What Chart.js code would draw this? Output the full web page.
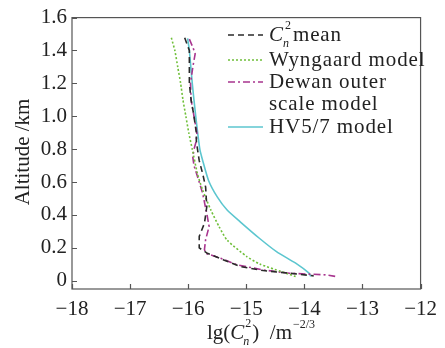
<!DOCTYPE html>
<html><head><meta charset="utf-8">
<script src="https://cdn.jsdelivr.net/npm/chart.js@4/dist/chart.umd.min.js"></script>
<style>html,body{margin:0;padding:0;background:#fff}#w{width:445px;height:348px;position:relative}</style>
</head><body><div id="w"><canvas id="c" width="445" height="348"></canvas></div>
<script>
const xTicks = [-18,-17,-16,-15,-14,-13,-12];
const yTicks = [0,0.2,0.4,0.6,0.8,1.0,1.2,1.4,1.6];
const seriesNames = ["mean","Wyngaard model","Dewan outer","HV5/7 model"];

const meanY = [1.477,1.4,1.3,1.2,1.1,1.0,0.9,0.85,0.8,0.73,0.65,0.57,0.45,0.35,0.27,0.2,0.167,0.127,0.086,0.062,0.046,0.03];
const meanX = [-16.06,-15.98,-15.98,-15.98,-15.95,-15.90,-15.86,-15.86,-15.84,-15.81,-15.75,-15.70,-15.68,-15.72,-15.81,-15.81,-15.67,-15.39,-15.10,-14.71,-14.26,-13.84];

const wynY = [1.477,1.4,1.3,1.2,1.1,1.0,0.9,0.8,0.65,0.55,0.43,0.33,0.247,0.147,0.102,0.056,0.026];
const wynX = [-16.29,-16.23,-16.18,-16.13,-16.09,-16.04,-15.99,-15.93,-15.84,-15.75,-15.61,-15.47,-15.33,-14.99,-14.77,-14.40,-14.15];

const dewY = [1.469,1.42,1.38,1.3,1.2,1.1,1.0,0.9,0.85,0.8,0.75,0.7,0.6,0.53,0.39,0.33,0.25,0.19,0.167,0.137,0.097,0.066,0.046,0.036,0.027];
const dewX = [-15.98,-15.92,-15.88,-15.92,-15.96,-15.95,-15.90,-15.85,-15.86,-15.90,-15.92,-15.90,-15.81,-15.75,-15.67,-15.64,-15.70,-15.72,-15.70,-15.44,-15.16,-14.71,-14.26,-13.64,-13.47];

const hvY = [1.473,1.4,1.2,1.0,0.8,0.73,0.61,0.51,0.43,0.357,0.257,0.177,0.107,0.046,0.026];
const hvX = [-16.01,-15.98,-15.93,-15.87,-15.80,-15.75,-15.65,-15.50,-15.33,-15.10,-14.77,-14.48,-14.15,-13.92,-13.89];

const FONT = '"Liberation Serif","DejaVu Serif",serif';
const pts = (xs, ys) => xs.map((x,i)=>({x:x, y:ys[i]}));

const styles = [
  {color:'#2a2a2a', dash:[6,4]},
  {color:'#6fbf3a', dash:[2,2]},
  {color:'#a8358f', dash:[7,3,2,3]},
  {color:'#5cc6cf', dash:[]}
];

const frame = {
  id:'frame',
  afterDraw(chart){
    const {ctx, chartArea:a, scales:{x, y}} = chart;
    ctx.save();
    ctx.strokeStyle = '#555'; ctx.lineWidth = 1.2; ctx.setLineDash([]);
    ctx.strokeRect(a.left, a.top, a.right-a.left, a.bottom-a.top);
    ctx.beginPath();
    xTicks.forEach(v=>{const p=Math.round(x.getPixelForValue(v))+0.5; ctx.moveTo(p,a.bottom); ctx.lineTo(p,a.bottom-5);});
    yTicks.forEach(v=>{const p=Math.round(y.getPixelForValue(v))+0.5; ctx.moveTo(a.left,p); ctx.lineTo(a.left+5,p);});
    ctx.stroke();
    // legend
    const lx0 = 228, lx1 = 263, tx = 269;
    const rows = [35, 60, 82, 127];
    ctx.fillStyle = '#222'; ctx.textBaseline = 'middle';
    rows.forEach((ry,i)=>{
      ctx.strokeStyle = styles[i].color; ctx.lineWidth = 1.5; ctx.setLineDash(styles[i].dash);
      ctx.beginPath(); ctx.moveTo(lx0, ry); ctx.lineTo(lx1, ry); ctx.stroke();
    });
    ctx.setLineDash([]);
    ctx.textAlign='left';
    ctx.letterSpacing = '0.9px';
    ctx.font = 'italic 21px ' + FONT;
    ctx.fillText('C', tx, 35);
    let w = ctx.measureText('C').width;
    ctx.font = '12px ' + FONT; ctx.fillText('2', tx+w+1, 26);
    ctx.font = 'italic 12px ' + FONT; ctx.fillText('n', tx+w-1, 44);
    ctx.font = '21px ' + FONT;
    ctx.fillText('mean', tx+w+9, 35);
    ctx.fillText(seriesNames[1], tx, 60);
    ctx.fillText(seriesNames[2], tx, 82);
    ctx.fillText('scale model', tx, 104);
    ctx.fillText(seriesNames[3], tx, 127);
    ctx.letterSpacing = '0px';
    // x axis title
    const ty = 333;
    let cx = 207;
    ctx.font = '21px ' + FONT; ctx.fillText('lg(', cx, ty); cx += ctx.measureText('lg(').width;
    ctx.font = 'italic 21px ' + FONT; ctx.fillText('C', cx, ty); const cw = ctx.measureText('C').width;
    ctx.font = '12px ' + FONT; ctx.fillText('2', cx+cw+1, ty-9);
    ctx.font = 'italic 12px ' + FONT; ctx.fillText('n', cx+cw-1, ty+9);
    cx += cw + 8;
    ctx.font = '21px ' + FONT; ctx.fillText(')  /m', cx, ty); cx += ctx.measureText(')  /m').width;
    ctx.font = '12px ' + FONT; ctx.fillText('\u22122/3', cx+1, ty-8);
    // y axis title
    ctx.save(); ctx.translate(23, 152); ctx.rotate(-Math.PI/2);
    ctx.font = '21px ' + FONT; ctx.textAlign='center'; ctx.fillText('Altitude /km', 0, 0);
    ctx.restore();
    ctx.restore();
  }
};

new Chart(document.getElementById('c'), {
  type:'scatter',
  data:{datasets:[
    {label:seriesNames[0], data:pts(meanX,meanY)},
    {label:seriesNames[1], data:pts(wynX,wynY), tension:0.2},
    {label:seriesNames[2], data:pts(dewX,dewY)},
    {label:seriesNames[3], data:pts(hvX,hvY), tension:0.2}
  ].map((d,i)=>Object.assign({showLine:true, pointRadius:0, borderWidth:1.6, borderColor:styles[i].color, borderDash:styles[i].dash, backgroundColor:styles[i].color, fill:false}, d))},
  options:{
    responsive:false, animation:false,
    layout:{padding:{left:0,right:18,top:15,bottom:0}},
    plugins:{legend:{display:false}, tooltip:{enabled:false}},
    scales:{
      x:{type:'linear', min:-18, max:-12,
        afterBuildTicks(s){s.ticks = xTicks.map(v=>({value:v}));},
        afterFit(s){s.height = 59;},
        grid:{display:false, drawTicks:false}, border:{display:false},
        ticks:{padding:8, color:'#222', font:{family:FONT, size:21}, maxRotation:0,
          callback:v=>(v<0?'\u2212':'')+Math.abs(v)}},
      y:{type:'linear', min:-0.05, max:1.6,
        afterBuildTicks(s){s.ticks = yTicks.map(v=>({value:v}));},
        afterFit(s){s.width = 72;},
        grid:{display:false, drawTicks:false}, border:{display:false},
        ticks:{padding:5, color:'#222', font:{family:FONT, size:21},
          callback:v=> v===0 ? '0' : v.toFixed(1)}}
    }
  },
  plugins:[frame]
});
</script></body></html>
